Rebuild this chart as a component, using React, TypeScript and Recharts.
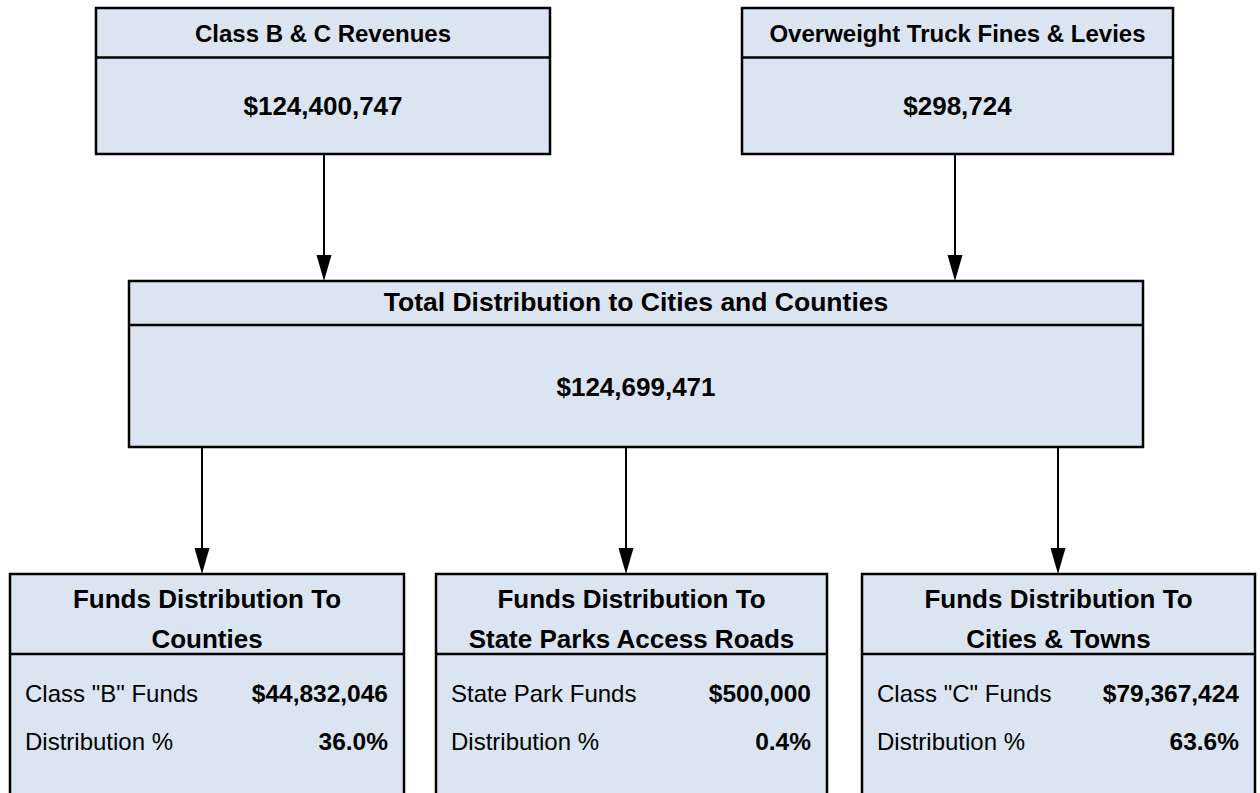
import React from "react";
import {
  ScatterChart,
  Scatter,
  XAxis,
  YAxis,
  ReferenceArea,
  ReferenceLine,
} from "recharts";

// ---------- data ----------
const sourceLabels = ["Class B & C Revenues", "Overweight Truck Fines & Levies"];
const sourceValues = [124400747, 298724];
const totalLabel = "Total Distribution to Cities and Counties";
const totalValue = 124699471;
const destTitleLine1 = ["Funds Distribution To", "Funds Distribution To", "Funds Distribution To"];
const destTitleLine2 = ["Counties", "State Parks Access Roads", "Cities & Towns"];
const destFundLabels = ['Class "B" Funds', "State Park Funds", 'Class "C" Funds'];
const destFundValues = [44832046, 500000, 79367424];
const destPctLabel = "Distribution %";
const destPercents = [36.0, 0.4, 63.6];

// ---------- layout (diagram coordinate space 0..1260 x 0..793) ----------
const W = 1260;
const H = 793;
const FILL = "#dbe5f1";
const FONT = "'Liberation Sans', Arial, Helvetica, sans-serif";

const sourceBoxes = [
  { x1: 96, x2: 550, y1: 8, y2: 154, sep: 57.5 },
  { x1: 742, x2: 1173, y1: 8, y2: 154, sep: 57.5 },
];
const totalBox = { x1: 129, x2: 1143, y1: 281, y2: 447, sep: 325 };
const destBoxes = [
  { x1: 10, x2: 404, y1: 574, y2: 810, sep: 654 },
  { x1: 436, x2: 827, y1: 574, y2: 810, sep: 654 },
  { x1: 862, x2: 1255, y1: 574, y2: 810, sep: 654 },
];
const topArrowX = [324, 955];
const bottomArrowX = [202, 626, 1058];

const fmtMoney = (v: number) => "$" + v.toLocaleString("en-US");
const fmtPct = (v: number) => v.toFixed(1) + "%";

type TextItem = {
  x: number;
  y: number;
  text: string;
  anchor: "start" | "middle" | "end";
  size: number;
  bold: boolean;
};

const texts: TextItem[] = [];
sourceBoxes.forEach((b, i) => {
  const cx = (b.x1 + b.x2) / 2;
  texts.push({ x: cx, y: 33.5, text: sourceLabels[i], anchor: "middle", size: 24, bold: true });
  texts.push({ x: cx, y: 106, text: fmtMoney(sourceValues[i]), anchor: "middle", size: 26, bold: true });
});
{
  const cx = (totalBox.x1 + totalBox.x2) / 2;
  texts.push({ x: cx, y: 302, text: totalLabel, anchor: "middle", size: 26.5, bold: true });
  texts.push({ x: cx, y: 387, text: fmtMoney(totalValue), anchor: "middle", size: 26, bold: true });
}
destBoxes.forEach((b, i) => {
  const cx = (b.x1 + b.x2) / 2;
  texts.push({ x: cx, y: 599, text: destTitleLine1[i], anchor: "middle", size: 26, bold: true });
  texts.push({ x: cx, y: 639, text: destTitleLine2[i], anchor: "middle", size: 26, bold: true });
  texts.push({ x: b.x1 + 15, y: 693, text: destFundLabels[i], anchor: "start", size: 24, bold: false });
  texts.push({ x: b.x2 - 16, y: 693, text: fmtMoney(destFundValues[i]), anchor: "end", size: 24.5, bold: true });
  texts.push({ x: b.x1 + 15, y: 741, text: destPctLabel, anchor: "start", size: 24, bold: false });
  texts.push({ x: b.x2 - 16, y: 741, text: fmtPct(destPercents[i]), anchor: "end", size: 24.5, bold: true });
});

const arrowTips = [
  ...topArrowX.map((x) => ({ x, y: totalBox.y1 })),
  ...bottomArrowX.map((x) => ({ x, y: destBoxes[0].y1 })),
];

const TextShape = (props: any) => {
  const { cx, cy, payload } = props;
  return (
    <text
      x={cx}
      y={cy}
      textAnchor={payload.anchor}
      dominantBaseline="central"
      fontFamily={FONT}
      fontSize={payload.size}
      fontWeight={payload.bold ? "bold" : "normal"}
      fill="#000"
    >
      {payload.text}
    </text>
  );
};

const ArrowHead = (props: any) => {
  const { cx, cy } = props;
  const hw = 7.5;
  const h = 26;
  return <polygon points={`${cx - hw},${cy - h} ${cx + hw},${cy - h} ${cx},${cy}`} fill="#000" />;
};

const allBoxes = [...sourceBoxes, totalBox, ...destBoxes];

export default function App() {
  return (
    <div style={{ position: "absolute", left: 0, top: 0, width: W, height: H, background: "#fff" }}>
      <ScatterChart width={W} height={H} margin={{ top: 0, right: 0, bottom: 0, left: 0 }}>
        <XAxis type="number" dataKey="x" domain={[0, W]} hide allowDataOverflow />
        <YAxis type="number" dataKey="y" domain={[0, H]} reversed hide allowDataOverflow />
        {allBoxes.map((b, i) => (
          <ReferenceArea
            key={"box" + i}
            x1={b.x1}
            x2={b.x2}
            y1={b.y1}
            y2={b.y2}
            fill={FILL}
            fillOpacity={1}
            stroke="#000"
            strokeWidth={2.5}
            ifOverflow="visible"
          />
        ))}
        {allBoxes.map((b, i) => (
          <ReferenceLine
            key={"sep" + i}
            segment={[
              { x: b.x1, y: b.sep },
              { x: b.x2, y: b.sep },
            ]}
            stroke="#000"
            strokeWidth={2.5}
            ifOverflow="visible"
          />
        ))}
        {topArrowX.map((x, i) => (
          <ReferenceLine
            key={"ta" + i}
            segment={[
              { x, y: sourceBoxes[0].y2 },
              { x, y: totalBox.y1 - 20 },
            ]}
            stroke="#000"
            strokeWidth={2}
            ifOverflow="visible"
          />
        ))}
        {bottomArrowX.map((x, i) => (
          <ReferenceLine
            key={"ba" + i}
            segment={[
              { x, y: totalBox.y2 },
              { x, y: destBoxes[0].y1 - 20 },
            ]}
            stroke="#000"
            strokeWidth={2}
            ifOverflow="visible"
          />
        ))}
        <Scatter data={arrowTips} shape={ArrowHead} isAnimationActive={false} />
        <Scatter data={texts} shape={TextShape} isAnimationActive={false} />
      </ScatterChart>
    </div>
  );
}
